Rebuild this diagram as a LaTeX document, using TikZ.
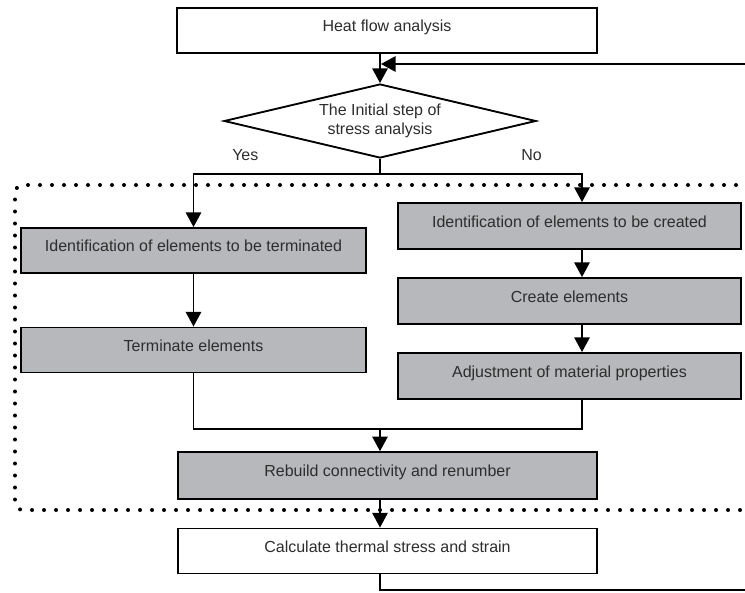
\documentclass[tikz,border=0pt]{standalone}
\usepackage{fontspec}
\setmainfont{Liberation Sans}
\usepackage{tikz}
\usepackage{xcolor}
\usetikzlibrary{shapes.geometric,arrows.meta}

\definecolor{boxgray}{RGB}{183,184,188}
\definecolor{inkgray}{RGB}{45,45,45}

\tikzset{
    flowbox/.style={
        draw=black,
        line width=1.4pt,
        fill=white,
        text=inkgray,
        inner sep=0pt,
        minimum height=33.75pt,
        text height=7.5pt,
        text depth=5.5pt,
        font=\fontsize{12}{14}\selectfont
    },
    graybox/.style={
        flowbox,
        fill=boxgray
    },
    decision/.style={
        draw=black,
        line width=1.4pt,
        diamond,
        aspect=4.2,
        inner sep=0pt,
        minimum width=234pt,
        minimum height=55.5pt,
        align=center,
        text=inkgray,
        font=\fontsize{12}{14.3}\selectfont
    },
    lbl/.style={
        inner sep=0pt,
        text=inkgray,
        font=\fontsize{12}{14}\selectfont
    },
    arr/.style={
        line width=1.4pt,
        -{Triangle[width=11.5pt,length=11pt]}
    },
    link/.style={
        line width=1.4pt
    },
    dotframe/.style={
        line width=3pt,
        line cap=round,
        dash pattern=on 0pt off 9pt,
        rounded corners=6pt
    }
}

\begin{document}
\begin{tikzpicture}[x=0.75pt,y=-0.75pt]

    \useasboundingbox (0,0) rectangle (745,592);

    %------------------------------------------------
    % Dotted region
    %------------------------------------------------

    \draw[dotframe]
        (760,185) -- (15,185) -- (15,510) -- (760,510);

    %------------------------------------------------
    % Steps
    %------------------------------------------------

    \node[flowbox, minimum width=315pt]
        (heat) at (387,30.5)
        {Heat flow analysis};

    \node[decision]
        (dec) at (380,121)
        {The Initial step of\\stress analysis};

    \node[lbl, anchor=west] (yes) at (232,155) {Yes};
    \node[lbl, anchor=east] (no) at (542,155) {No};

    \node[graybox, minimum width=258.75pt]
        (term1) at (193.5,250.5)
        {Identification of elements to be terminated};

    \node[graybox, minimum width=258.75pt]
        (term2) at (193.5,350)
        {Terminate elements};

    \node[graybox, minimum width=257.25pt, minimum height=34.5pt]
        (crea1) at (569.5,226)
        {Identification of elements to be created};

    \node[graybox, minimum width=257.25pt, minimum height=34.5pt]
        (crea2) at (569.5,301)
        {Create elements};

    \node[graybox, minimum width=257.25pt, minimum height=34.5pt]
        (crea3) at (569.5,376)
        {Adjustment of material properties};

    \node[graybox, minimum width=314.25pt, minimum height=35pt]
        (rebuild) at (387.5,475.5)
        {Rebuild connectivity and renumber};

    \node[flowbox, minimum width=314.25pt]
        (calc) at (387.5,551)
        {Calculate thermal stress and strain};

    %------------------------------------------------
    % Helper points
    %------------------------------------------------

    \coordinate (split) at (380,174);
    \coordinate (rcol) at (582,174);
    \coordinate (merge) at (380,429);
    \coordinate (loopB) at (752,590);
    \coordinate (loopT) at (752,64);

    %------------------------------------------------
    % Connectors
    %------------------------------------------------

    \draw[arr] (heat.south -| dec.north) -- (dec.north);

    \draw[link] (dec.south) -- (split);
    \draw[arr] (split) -| (term1.north);
    \draw[arr] (split) -| (rcol |- crea1.north);

    \draw[arr] (term1) -- (term2);
    \draw[arr] (crea1.south -| rcol) -- (crea2.north -| rcol);
    \draw[arr] (crea2.south -| rcol) -- (crea3.north -| rcol);

    \draw[link] (term2.south) |- (merge);
    \draw[link] (crea3.south -| rcol) |- (merge);
    \draw[arr] (merge) -- (rebuild.north -| merge);

    \draw[arr] (rebuild.south -| merge) -- (calc.north -| merge);

    %------------------------------------------------
    % Feedback loop
    %------------------------------------------------

    \draw[arr]
        (calc.south -| dec.north) |- (loopB) -- (loopT)
        -- ([xshift=0.7pt]loopT -| dec.north);

\end{tikzpicture}
\end{document}
